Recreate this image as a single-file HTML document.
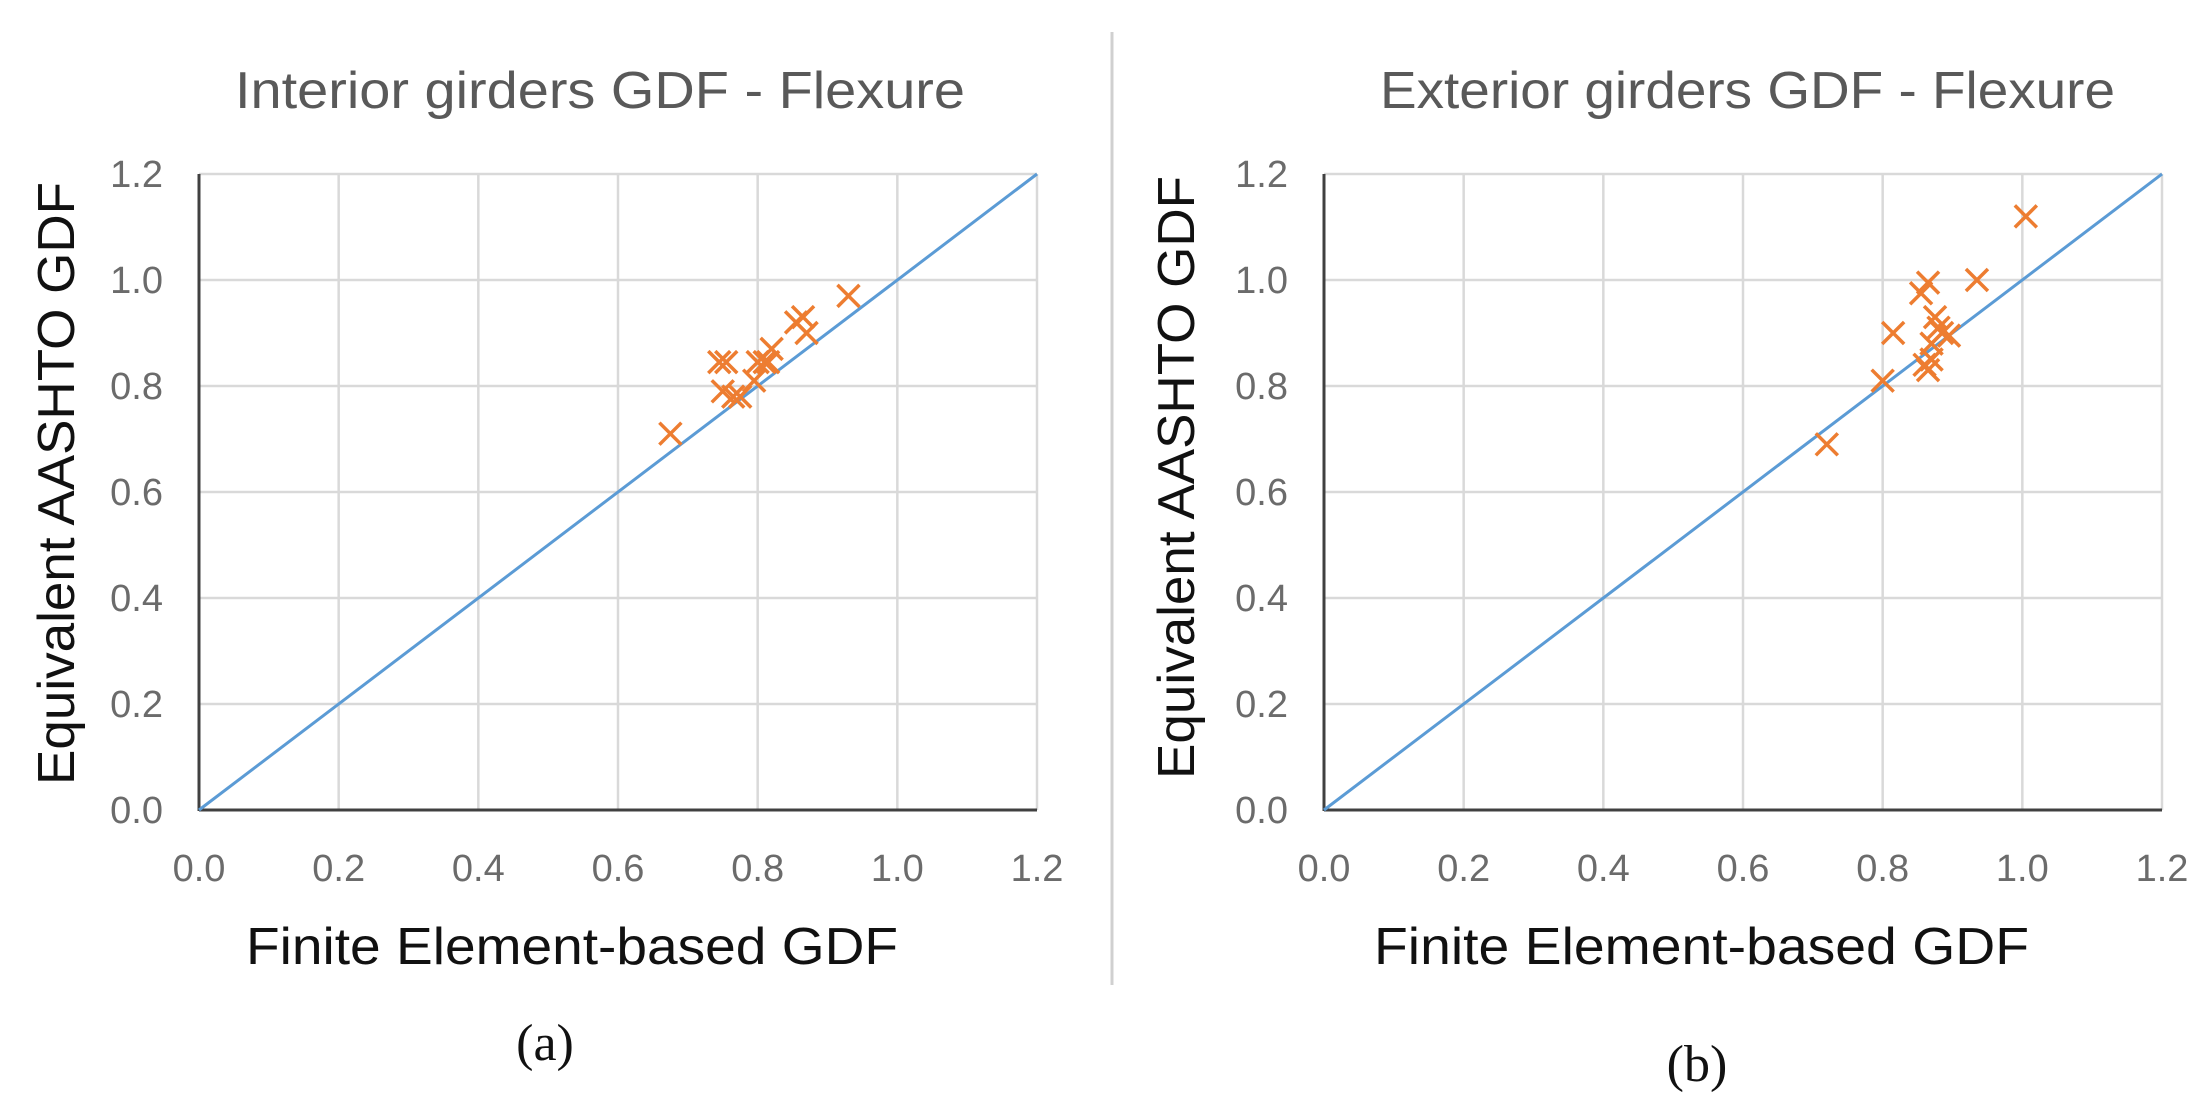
<!DOCTYPE html>
<html><head><meta charset="utf-8"><style>
html,body{margin:0;padding:0;background:#fff;width:2204px;height:1115px;overflow:hidden}
svg{display:block}
</style></head><body>
<svg id="fig" width="2204" height="1115" xmlns="http://www.w3.org/2000/svg">
<line x1="1112" y1="32" x2="1112" y2="985" stroke="#d0d0d0" stroke-width="3"/>
</svg>
<script>
const ticks=[0,0.2,0.4,0.6,0.8,1.0,1.2];
const tickLabels=["0.0","0.2","0.4","0.6","0.8","1.0","1.2"];
const intX=[0.675,0.745,0.755,0.75,0.765,0.775,0.795,0.80,0.81,0.815,0.82,0.855,0.865,0.87,0.93];
const intY=[0.71,0.845,0.845,0.79,0.78,0.78,0.81,0.845,0.845,0.845,0.87,0.92,0.93,0.90,0.97];
const extX=[0.72,0.80,0.815,0.855,0.865,0.86,0.865,0.87,0.87,0.875,0.88,0.885,0.895,0.935,1.005];
const extY=[0.69,0.81,0.90,0.975,0.995,0.84,0.83,0.85,0.88,0.93,0.91,0.90,0.895,1.0,1.12];
const lineVals=[0,1.2];
const NS="http://www.w3.org/2000/svg";
const svg=document.getElementById('fig');
function mk(tag,attrs,parent,text){const e=document.createElementNS(NS,tag);for(const k in attrs)e.setAttribute(k,attrs[k]);if(text!==undefined)e.textContent=text;(parent||svg).appendChild(e);return e;}
function panel(cfg,xs,ys,key){
  const g=mk('g',{});
  
  
  const sx=v=>cfg.x0+(cfg.x1-cfg.x0)*v/1.2;
  const sy=v=>810-(810-174)*v/1.2;
  ticks.forEach((t,i)=>{
    if(i>0){
      const v=mk('line',{x1:sx(t),x2:sx(t),y1:174,y2:810,stroke:'#d9d9d9','stroke-width':2.5},g);
      
      
      const h=mk('line',{x1:cfg.x0,x2:cfg.x1,y1:sy(t),y2:sy(t),stroke:'#d9d9d9','stroke-width':2.5},g);
      
      
    }
    const xl=mk('text',{x:sx(t),y:881,'text-anchor':'middle','font-size':38,fill:'#6b6b6b','font-family':'Liberation Sans, sans-serif'},g,tickLabels[i]);
    
    
    const yl=mk('text',{x:cfg.x0-36,y:sy(t)+13,'text-anchor':'end','font-size':38,fill:'#6b6b6b','font-family':'Liberation Sans, sans-serif'},g,tickLabels[i]);
    
    
  });
  const ax=mk('line',{x1:cfg.x0,x2:cfg.x0,y1:174,y2:811,stroke:'#404040','stroke-width':3},g);
  
  
  const ay=mk('line',{x1:cfg.x0,x2:cfg.x1,y1:810,y2:810,stroke:'#404040','stroke-width':3},g);
  
  
  const ref=mk('line',{x1:sx(lineVals[0]),y1:sy(lineVals[0]),x2:sx(lineVals[1]),y2:sy(lineVals[1]),stroke:'#5b9bd5','stroke-width':3},g);
  
  
  xs.forEach((xv,i)=>{
    const cx=sx(xv),cy=sy(ys[i]),r=11;
    const p=mk('path',{d:`M${cx-r},${cy-r}L${cx+r},${cy+r}M${cx-r},${cy+r}L${cx+r},${cy-r}`,stroke:'#ed7d31','stroke-width':3.5,fill:'none'},g);
    
    
  });
  const t=mk('text',{x:cfg.tx,y:108,'font-size':52,fill:'#595959','font-family':'Liberation Sans, sans-serif',textLength:cfg.tw,lengthAdjust:'spacingAndGlyphs'},g,cfg.title);
  
  
  const xt=mk('text',{x:cfg.xtx,y:964,'font-size':52,fill:'#111','font-family':'Liberation Sans, sans-serif',textLength:cfg.xtw,lengthAdjust:'spacingAndGlyphs'},g,'Finite Element-based GDF');
  
  
  const yt=mk('text',{x:0,y:0,'font-size':52,fill:'#111','font-family':'Liberation Sans, sans-serif',textLength:603,lengthAdjust:'spacingAndGlyphs',transform:`translate(${cfg.ytx},${cfg.yty}) rotate(-90)`},g,'Equivalent AASHTO GDF');
  
  
  const c=mk('text',{x:cfg.cx,y:cfg.cy,'text-anchor':'middle','font-size':52,fill:'#111','font-family':'Liberation Serif, serif'},g,cfg.cap);
  
  
}
panel({x0:199,x1:1037,tx:235,tw:730,title:'Interior girders GDF - Flexure',xtx:246,xtw:652,ytx:74,yty:785,cx:545,cy:1060,cap:'(a)'},intX,intY,'interior');
panel({x0:1324,x1:2162,tx:1380,tw:735,title:'Exterior girders GDF - Flexure',xtx:1374,xtw:655,ytx:1194,yty:779,cx:1697,cy:1081,cap:'(b)'},extX,extY,'exterior');
</script>
</body></html>
